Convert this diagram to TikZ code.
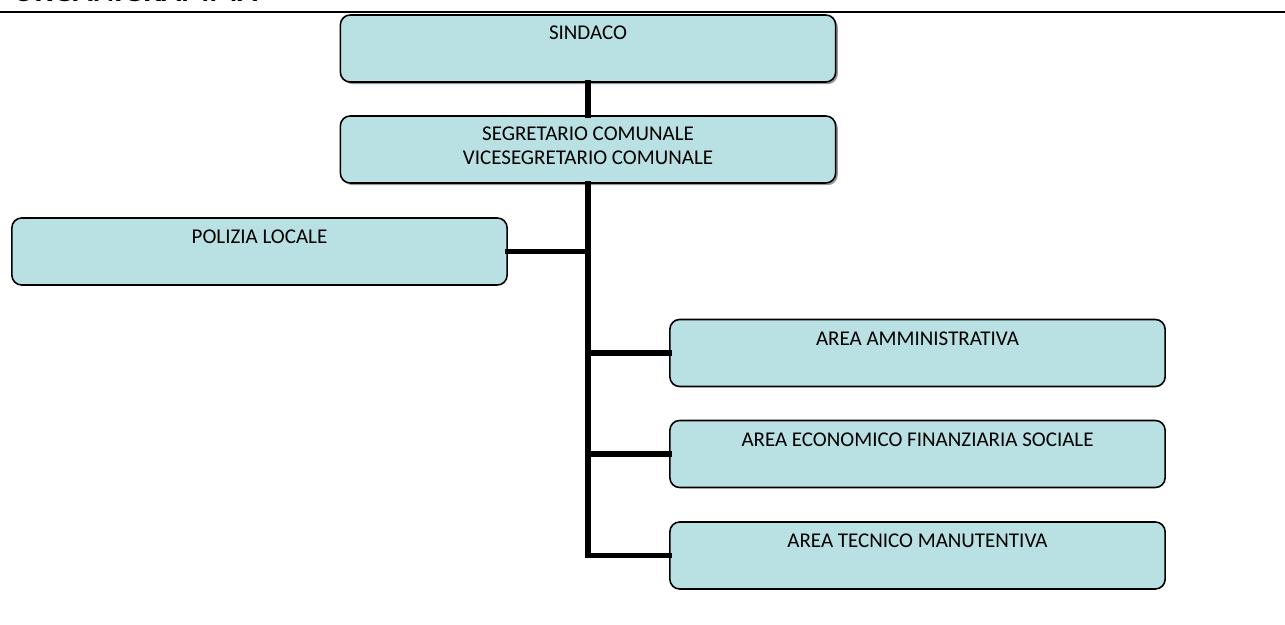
\documentclass[tikz,border=0pt]{standalone}
\usepackage{fontspec}
\setmainfont{Carlito}
\usetikzlibrary{calc,shadows}
\definecolor{boxfill}{HTML}{B9E0E3}
\tikzset{
  box/.style={draw=black, line width=0.45pt, fill=boxfill, rounded corners=2.8pt,
    minimum width=4.95cm, minimum height=0.67cm, inner sep=0pt},
  shadowed/.style={drop shadow={shadow xshift=0.6pt, shadow yshift=-0.6pt, fill=gray!80, opacity=1}},
  txt/.style={inner sep=0pt, font=\fontsize{5.97}{6.85}\selectfont, align=center},
  conn/.style={line width=1.45pt, line cap=rect},
}
\begin{document}
\begin{tikzpicture}[x=0.01cm, y=-0.01cm]
\useasboundingbox (0,0) rectangle (1285,624);
\node[anchor=base west, inner sep=0pt, font=\fontsize{9.2}{10}\selectfont\bfseries] (title) at (12,1.5) {ORGANIGRAMMA};
\draw[line width=0.45pt] (0,12) coordinate (rl) -- (1285,12) coordinate (rr);
\node[box, shadowed] (sind) at (588,48.5) {};
\node[txt] (sindt) at ($(sind.north)+(0,19)$) {SINDACO};
\node[box, shadowed] (seg) at (588,149.5) {};
\node[txt, anchor=north] (segt) at ($(seg.north)+(0,11)$) {SEGRETARIO COMUNALE\\VICESEGRETARIO COMUNALE};
\node[box] (pol) at (259.5,251.5) {};
\node[txt] (polt) at ($(pol.north)+(0,20)$) {POLIZIA LOCALE};
\node[box] (amm) at (917.5,353) {};
\node[txt] (ammt) at ($(amm.north)+(0,20)$) {AREA AMMINISTRATIVA};
\node[box] (eco) at (917.5,454) {};
\node[txt] (ecot) at ($(eco.north)+(0,20)$) {AREA ECONOMICO FINANZIARIA SOCIALE};
\node[box] (tec) at (917.5,555.5) {};
\node[txt] (tect) at ($(tec.north)+(0,20)$) {AREA TECNICO MANUTENTIVA};
\draw[conn] (sind.south) -- (seg.north);
\draw[conn] (seg.south) -- (seg.south |- tec.west) -- (tec.west);
\draw[conn] (pol.east) -- (pol.east -| seg.south);
\draw[conn] (amm.west) -- (amm.west -| seg.south);
\draw[conn] (eco.west) -- (eco.west -| seg.south);
\end{tikzpicture}
\end{document}
